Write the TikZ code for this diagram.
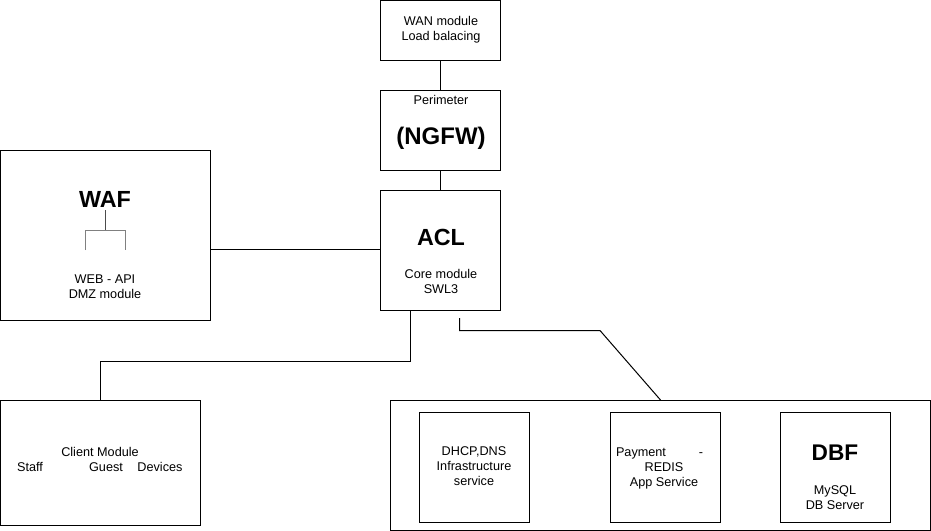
\documentclass[tikz,border=0pt]{standalone}
\usepackage{fontspec}
\setmainfont{Liberation Sans}
\usetikzlibrary{fit}
\begin{document}
\begin{tikzpicture}[x=0.75pt,y=-0.75pt,
  box/.style={draw=black,line width=0.75pt,inner sep=0pt,fill=white},
  conn/.style={draw=black,line width=0.75pt},
  txt/.style={inner sep=0pt,font=\fontsize{9.5}{11.25}\selectfont,align=center},
  big/.style={inner sep=0pt,font=\fontsize{17}{20}\selectfont\bfseries}]
\useasboundingbox[fill=white] (0,0) rectangle (931,531);
% boxes
\node[box,fit={(380.5,0.5) (500.5,60.5)}] (wan) {};
\node[box,fit={(380.5,90.5) (500.5,170.5)}] (per) {};
\node[box,fit={(380.5,190.5) (500.5,310.5)}] (acl) {};
\node[box,fit={(0.5,150.5) (210.5,320.5)}] (waf) {};
\node[box,fit={(0.5,400.5) (200.5,525.5)}] (client) {};
\node[box,fit={(390.5,400.5) (930.5,530.5)}] (srv) {};
\node[box,fit={(419.5,412.5) (529.5,522.5)}] (dhcp) {};
\node[box,fit={(610.5,412.5) (720.5,522.5)}] (pay) {};
\node[box,fit={(780.5,412.5) (890.5,522.5)}] (dbf) {};
% texts
\node[txt] (want) at (441,30) {WAN module\\Load balacing};
\node[txt] (pert) at (441,100) {Perimeter};
\node[big,font=\fontsize{18}{20}\selectfont\bfseries] (ngfw) at (441,138) {(NGFW)};
\node[big,font=\fontsize{17.5}{20}\selectfont\bfseries] (aclt) at (441,237) {ACL};
\node[txt] (core) at (441,281) {Core module\\SWL3};
\node[big,font=\fontsize{17.5}{20}\selectfont\bfseries] (waft) at (105,199) {WAF};
\node[txt] (webt) at (105,287) {WEB - API\\DMZ module};
\node[txt] (cm) at (100,452) {Client Module};
\node[txt] (staff) at (30,467) {Staff};
\node[txt] (guest) at (106,467) {Guest};
\node[txt] (dev) at (160,467) {Devices};
\node[txt] (dhcpt) at (474,466) {DHCP,DNS\\Infrastructure\\service};
\node[txt] (paym) at (641,453) {Payment};
\node[txt,anchor=base,xshift=45pt] (dash) at (paym.base) {-};
\node[txt] (redis) at (664,476) {REDIS\\App Service};
\node[big] (dbft) at (835,453) {DBF};
\node[txt] (mysql) at (835,498) {MySQL\\DB Server};
% WAF bracket
\coordinate (bt) at (105.5,210);
\draw[line width=0.75pt,black!70] (bt) -- (105.5,230);
\draw[line width=0.75pt,gray] (85.5,250) -- (85.5,230.5) -- (125.5,230.5) -- (125.5,250);
% connectors
\draw[conn] (wan.south) -- (per.north);
\draw[conn] (per.south) -- (acl.north);
\coordinate (wafe) at (210.5,249.5);
\draw[conn] (wafe) -- (wafe -| acl.west);
\draw[conn] (acl.south west) ++(30,0) -- ++(0,50) -| (client.north);
\coordinate (c1) at (459.5,318);
\draw[conn] (c1) -- (459.5,330.5) -- (600,330.5) -- (srv.north);
\end{tikzpicture}
\end{document}
